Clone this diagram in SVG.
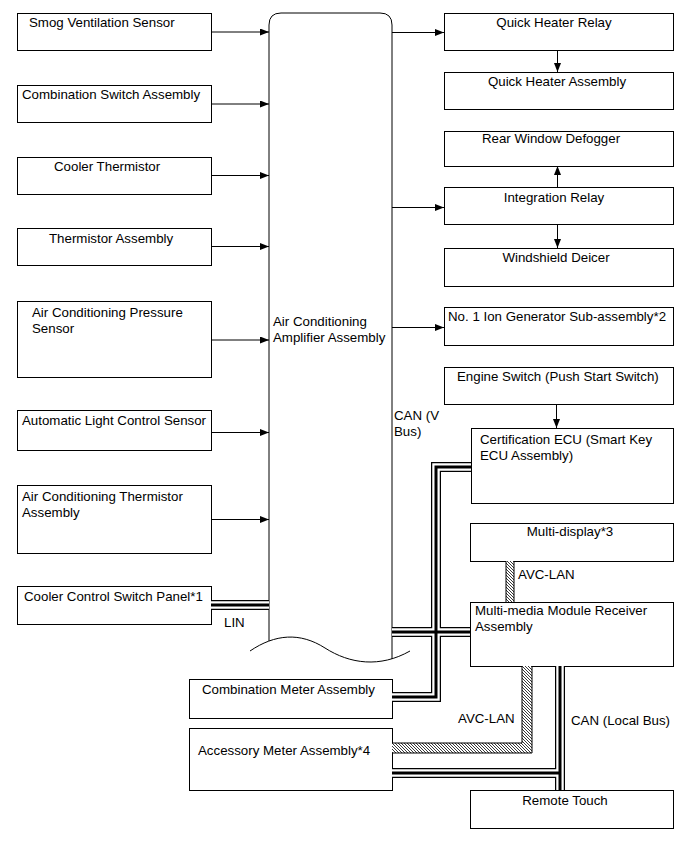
<svg xmlns="http://www.w3.org/2000/svg" width="689" height="853" viewBox="0 0 689 853">
<style>
  .box { fill: #fff; stroke: #000; stroke-width: 1; }
  .t { font-family: "Liberation Sans", Arial, sans-serif; font-size: 13.3px; fill: #000; }
  .c { text-anchor: middle; }
  .ln { fill: none; stroke: #000; stroke-width: 1; }
  .bo { fill: none; stroke: #000; stroke-width: 10; }
  .bw { fill: none; stroke: #fff; stroke-width: 7.5; }
  .bi { fill: none; stroke: #000; stroke-width: 3; }
  .hat { fill: url(#hatch); stroke: none; }
</style>
<defs>
  <marker id="arr" markerWidth="9" markerHeight="7" refX="9" refY="3.5" orient="auto" markerUnits="userSpaceOnUse">
    <path d="M0,0 L9,3.5 L0,7 z" fill="#000"/>
  </marker>
  <pattern id="hatch" patternUnits="userSpaceOnUse" width="3" height="3">
    <rect width="3" height="3" fill="#fff"/>
    <path d="M-1,-1 L4,4 M-1,2 L1,4 M2,-1 L4,1" stroke="#222" stroke-width="0.9"/>
  </pattern>
</defs>

<rect width="689" height="853" fill="#fff"/>

<!-- Main amplifier -->
<g id="amplifier">
  <path class="ln" d="M269,641 L269,25 Q269,13 281,13 L380,13 Q392,13 392,25 L392,659"/>
  <path class="ln" d="M250,651 C275,634 300,632 325,648 S380,668 410,651"/>
  <text class="t" x="273" y="326">Air Conditioning</text>
  <text class="t" x="273" y="342">Amplifier Assembly</text>
</g>

<!-- Left nodes -->
<g id="smog"><rect class="box" x="17.5" y="13.5" width="194" height="37"/><text class="t" x="29" y="27">Smog Ventilation Sensor</text></g>
<g id="combswitch"><rect class="box" x="17.5" y="85.5" width="194" height="37"/><text class="t" x="22" y="99">Combination Switch Assembly</text></g>
<g id="coolertherm"><rect class="box" x="17.5" y="157.5" width="194" height="37"/><text class="t" x="54" y="171">Cooler Thermistor</text></g>
<g id="thermassy"><rect class="box" x="17.5" y="228.5" width="194" height="37"/><text class="t" x="49" y="243">Thermistor Assembly</text></g>
<g id="acpress"><rect class="box" x="17.5" y="301.5" width="194" height="76"/><text class="t" x="32" y="317">Air Conditioning Pressure</text><text class="t" x="32" y="333">Sensor</text></g>
<g id="autolight"><rect class="box" x="17.5" y="410.5" width="194" height="40"/><text class="t" x="22" y="425">Automatic Light Control Sensor</text></g>
<g id="actherm"><rect class="box" x="17.5" y="485.5" width="194" height="68"/><text class="t" x="22" y="501">Air Conditioning Thermistor</text><text class="t" x="22" y="517">Assembly</text></g>
<g id="coolerpanel"><rect class="box" x="17.5" y="586.5" width="194" height="38"/><text class="t" x="24" y="601">Cooler Control Switch Panel*1</text></g>

<!-- Right nodes -->
<g id="qhrelay"><rect class="box" x="444.5" y="13.5" width="229" height="37"/><text class="t c" x="554" y="27">Quick Heater Relay</text></g>
<g id="qhassy"><rect class="box" x="444.5" y="72.5" width="229" height="37"/><text class="t c" x="557" y="86">Quick Heater Assembly</text></g>
<g id="defogger"><rect class="box" x="444.5" y="131.5" width="229" height="35"/><text class="t c" x="551" y="143">Rear Window Defogger</text></g>
<g id="intrelay"><rect class="box" x="444.5" y="187.5" width="229" height="37"/><text class="t c" x="554" y="202">Integration Relay</text></g>
<g id="deicer"><rect class="box" x="444.5" y="248.5" width="229" height="38"/><text class="t c" x="556" y="262">Windshield Deicer</text></g>
<g id="iongen"><rect class="box" x="444.5" y="307.5" width="229" height="38"/><text class="t" x="448" y="321">No. 1 Ion Generator Sub-assembly*2</text></g>
<g id="engswitch"><rect class="box" x="444.5" y="367.5" width="229" height="37"/><text class="t" x="457" y="381">Engine Switch (Push Start Switch)</text></g>
<g id="certecu"><rect class="box" x="471.5" y="428.5" width="202" height="75"/><text class="t" x="480" y="444">Certification ECU (Smart Key</text><text class="t" x="480" y="460">ECU Assembly)</text></g>
<g id="multidisplay"><rect class="box" x="470.5" y="523.5" width="203" height="38"/><text class="t c" x="570" y="536">Multi-display*3</text></g>
<g id="mmr"><rect class="box" x="470.5" y="602.5" width="203" height="64"/><text class="t" x="475" y="615">Multi-media Module Receiver</text><text class="t" x="475" y="631">Assembly</text></g>
<g id="combmeter"><rect class="box" x="189.5" y="679.5" width="203" height="39"/><text class="t" x="202" y="694">Combination Meter Assembly</text></g>
<g id="accmeter"><rect class="box" x="189.5" y="728.5" width="203" height="62"/><text class="t" x="198" y="755">Accessory Meter Assembly*4</text></g>
<g id="remotetouch"><rect class="box" x="470.5" y="790.5" width="203" height="38"/><text class="t c" x="565" y="805">Remote Touch</text></g>

<!-- Connectors -->
<g id="connectors">
  <g id="arrows" marker-end="url(#arr)">
    <path class="ln" d="M211,32 H269"/>
    <path class="ln" d="M211,104 H269"/>
    <path class="ln" d="M211,175.5 H269"/>
    <path class="ln" d="M211,246.5 H269"/>
    <path class="ln" d="M211,340 H269"/>
    <path class="ln" d="M211,432.5 H269"/>
    <path class="ln" d="M211,519.5 H269"/>
    <path class="ln" d="M392,32.5 H444"/>
    <path class="ln" d="M392,207.5 H444"/>
    <path class="ln" d="M392,327.5 H444"/>
    <path class="ln" d="M557.5,50 V72"/>
    <path class="ln" d="M557.5,187 V166"/>
    <path class="ln" d="M557.5,224 V248"/>
    <path class="ln" d="M556.5,404 V428"/>
  </g>
  <!-- LIN bus -->
  <g id="lin">
    <path class="bo" d="M211,605 H269"/>
    <path class="bw" d="M211,605 H269"/>
    <path class="bi" d="M211,605 H269"/>
  </g>
  <!-- CAN buses -->
  <g id="can">
    <path class="bo" d="M471,467 H436 V697 H392 M392,632 H470 M392,773 H560 M560,666 V790"/>
    <path class="bw" d="M471,467 H436 V697 H392 M392,632 H470 M392,773 H560 M560,666 V790"/>
    <path class="bi" d="M471,467 H436 V697 H392 M392,632 H470 M392,773 H560 M560,666 V790"/>
  </g>
  <!-- AVC-LAN -->
  <g id="avclan">
    <rect class="hat" x="506" y="561" width="8" height="41"/>
    <path class="ln" d="M506,561 V602 M514,561 V602"/>
    <path class="hat" d="M392,743 H522 V666 H532 V753 H392 Z"/>
    <path class="ln" d="M392,743 H522 V666 M532,666 V753 H392"/>
  </g>
</g>

<!-- Labels -->
<text class="t" x="224" y="627">LIN</text>
<text class="t" x="394" y="420">CAN (V</text>
<text class="t" x="394" y="436">Bus)</text>
<text class="t" x="518" y="579">AVC-LAN</text>
<text class="t" x="458" y="723">AVC-LAN</text>
<text class="t" x="571" y="725">CAN (Local Bus)</text>
</svg>
